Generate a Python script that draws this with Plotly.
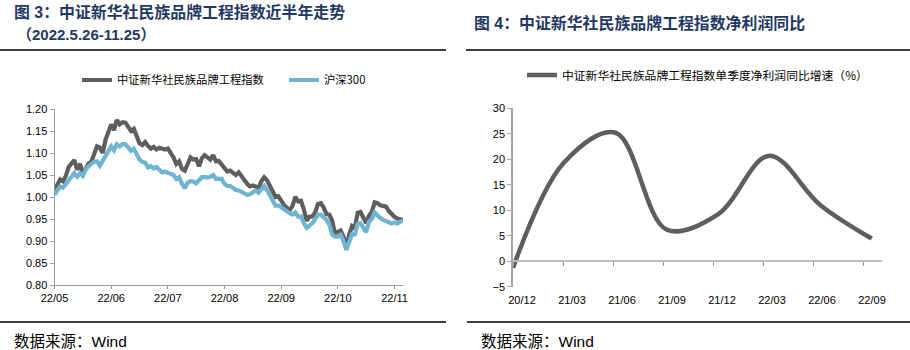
import plotly.graph_objects as go

W, H = 910, 350

# ---------------- data: left chart (trading-day index, ~2022-05-26 .. 2022-11-25) ----------------
brand_index = [
    1.016, 1.027, 1.040, 1.036, 1.048, 1.068, 1.075, 1.084, 1.062, 1.075,
    1.056, 1.064, 1.076, 1.080, 1.098, 1.115, 1.112, 1.100, 1.130, 1.148,
    1.165, 1.152, 1.175, 1.165, 1.170, 1.169, 1.160, 1.150, 1.155, 1.140,
    1.122, 1.118, 1.125, 1.116, 1.110, 1.114, 1.108, 1.112, 1.109, 1.108,
    1.110, 1.101, 1.090, 1.075, 1.081, 1.064, 1.060, 1.075, 1.090, 1.085,
    1.086, 1.070, 1.088, 1.095, 1.090, 1.085, 1.095, 1.081, 1.082, 1.075,
    1.065, 1.058, 1.060, 1.055, 1.050, 1.056, 1.046, 1.036, 1.030, 1.024,
    1.026, 1.024, 1.020, 1.036, 1.045, 1.038, 1.026, 1.012, 1.000, 1.002,
    0.990, 0.982, 0.975, 0.970, 0.980, 1.000, 0.990, 0.991, 0.972, 0.946,
    0.955, 0.956, 0.965, 0.984, 0.986, 0.976, 0.961, 0.960, 0.946, 0.916,
    0.921, 0.924, 0.910, 0.886, 0.914, 0.934, 0.930, 0.964, 0.966, 0.955,
    0.941, 0.958, 0.966, 0.988, 0.986, 0.981, 0.980, 0.978, 0.968, 0.960,
    0.955, 0.951, 0.948, 0.947,
]
hs300 = [
    1.005, 1.015, 1.024, 1.021, 1.030, 1.040, 1.045, 1.054, 1.046, 1.054,
    1.048, 1.062, 1.070, 1.074, 1.080, 1.081, 1.071, 1.082, 1.094, 1.105,
    1.115, 1.106, 1.120, 1.115, 1.120, 1.120, 1.111, 1.105, 1.110, 1.098,
    1.085, 1.080, 1.078, 1.067, 1.070, 1.065, 1.068, 1.062, 1.056, 1.058,
    1.056, 1.054, 1.050, 1.041, 1.045, 1.030, 1.020, 1.033, 1.036, 1.035,
    1.031, 1.038, 1.045, 1.045, 1.044, 1.046, 1.050, 1.041, 1.040, 1.041,
    1.030, 1.025, 1.025, 1.020, 1.016, 1.015, 1.011, 1.008, 1.005, 1.006,
    1.010, 1.015, 1.010, 1.018, 1.025, 1.016, 1.004, 0.990, 0.980, 0.981,
    0.976, 0.970, 0.965, 0.963, 0.960, 0.965, 0.955, 0.956, 0.941, 0.930,
    0.935, 0.940, 0.950, 0.960, 0.960, 0.955, 0.948, 0.937, 0.915, 0.910,
    0.910, 0.914, 0.900, 0.880, 0.900, 0.915, 0.915, 0.939, 0.940, 0.930,
    0.920, 0.944, 0.950, 0.965, 0.957, 0.952, 0.948, 0.945, 0.941, 0.940,
    0.942, 0.940, 0.944, 0.946,
]
left_tick_pos = [0, 20, 40, 60, 80, 100, 120]
left_tick_text = ["22/05", "22/06", "22/07", "22/08", "22/09", "22/10", "22/11"]
left_y_ticks = [0.80, 0.85, 0.90, 0.95, 1.00, 1.05, 1.10, 1.15, 1.20]

# ---------------- data: right chart (quarterly) ----------------
quarters = ["20/12", "21/03", "21/06", "21/09", "21/12", "22/03", "22/06", "22/09"]
profit_yoy = [-1.3, 19.4, 25.2, 6.2, 9.2, 20.7, 11.0, 4.45]
right_y_ticks = [-5, 0, 5, 10, 15, 20, 25, 30]

name_index = "中证新华社民族品牌工程指数"
name_hs300 = "沪深300"
name_profit = "中证新华社民族品牌工程指数单季度净利润同比增速（%）"

GREY = "#5e5e5e"
BLUE = "#6fb4d0"
NAVY = "#1f3864"
AXIS = "#9a9a9a"

def px_x(p):
    return p / W

def px_y(p):
    return 1 - p / H

# plot-area geometry (pixels)
L_X0, L_X1, L_Y0, L_Y1 = 54.5, 403, 109, 285
R_X0, R_X1, R_Y0, R_Y1 = 513, 882, 108.3, 286.7

fig = go.Figure()

fig.add_trace(go.Scatter(
    x=list(range(len(brand_index))), y=brand_index, mode="lines", name=name_index,
    line=dict(color=GREY, width=4.2), xaxis="x", yaxis="y", legend="legend",
))
fig.add_trace(go.Scatter(
    x=list(range(len(hs300))), y=hs300, mode="lines", name=name_hs300,
    line=dict(color=BLUE, width=4.2), xaxis="x", yaxis="y", legend="legend",
))
fig.add_trace(go.Scatter(
    x=list(range(len(profit_yoy))), y=profit_yoy, mode="lines", name=name_profit,
    line=dict(color=GREY, width=4.5, shape="spline", smoothing=1.0),
    xaxis="x2", yaxis="y2", legend="legend2",
))

tick_font = dict(family="Liberation Sans, Arial, sans-serif", size=11, color="#000000")

# right chart x positions: one quarter of data per step, ticks every 50px vs 51.3px/quarter
q_px = (871.7 - R_X0) / (len(quarters) - 1)
r_x_range = [0, (R_X1 - R_X0) / q_px]
r_tick_vals = [k * 50.0 / q_px for k in range(len(quarters))]

r_y_range = [-5, 30]
r_dom = [px_y(R_Y1), px_y(R_Y0)]
zero_pos = r_dom[0] + (0 - r_y_range[0]) / (r_y_range[1] - r_y_range[0]) * (r_dom[1] - r_dom[0])

fig.update_layout(
    width=W, height=H, margin=dict(l=0, r=0, t=0, b=0, autoexpand=False),
    paper_bgcolor="white", plot_bgcolor="white",
    font=dict(family="Liberation Sans, Noto Sans CJK SC, sans-serif", color="#000000"),
    xaxis=dict(
        domain=[px_x(L_X0), px_x(L_X1)], range=[0, len(brand_index) - 1],
        anchor="y", showgrid=False, zeroline=False, automargin=False,
        showline=True, linecolor=AXIS, linewidth=1,
        ticks="outside", ticklen=3, tickcolor=AXIS,
        tickmode="array", tickvals=left_tick_pos, ticktext=left_tick_text,
        tickfont=tick_font,
    ),
    yaxis=dict(
        domain=[px_y(L_Y1), px_y(L_Y0)], range=[0.80, 1.20],
        anchor="x", showgrid=False, zeroline=False, automargin=False,
        showline=True, linecolor=AXIS, linewidth=1,
        ticks="outside", ticklen=4, tickcolor=AXIS,
        tickmode="array", tickvals=left_y_ticks, tickformat=".2f",
        tickfont=tick_font,
    ),
    xaxis2=dict(
        domain=[px_x(R_X0), px_x(R_X1)], range=r_x_range,
        anchor="free", position=zero_pos, showgrid=False, zeroline=False, automargin=False,
        showline=True, linecolor="#bdbdbd", linewidth=1.5,
        ticks="outside", ticklen=4, tickcolor="#9a9a9a",
        tickmode="array", tickvals=r_tick_vals, ticktext=quarters,
        ticklabelshift=9, ticklabelstandoff=25,
        tickfont=tick_font,
    ),
    yaxis2=dict(
        domain=r_dom, range=r_y_range,
        anchor="x2", showgrid=False, zeroline=False, automargin=False,
        showline=True, linecolor="#a6a6a6", linewidth=1.5,
        ticks="outside", ticklen=4, tickcolor="#a6a6a6",
        tickmode="array", tickvals=right_y_ticks,
        tickfont=tick_font,
    ),
    legend=dict(
        orientation="h", x=px_x(77), y=px_y(80), xanchor="left", yanchor="middle",
        font=dict(family="Noto Sans CJK SC, sans-serif", size=11.3, color="#000000"),
        bgcolor="rgba(0,0,0,0)", itemwidth=30, entrywidth=162, entrywidthmode="pixels",
    ),
    legend2=dict(
        orientation="h", x=px_x(522), y=px_y(75), xanchor="left", yanchor="middle",
        font=dict(family="Noto Sans CJK SC, sans-serif", size=11.8, color="#000000"),
        bgcolor="rgba(0,0,0,0)", itemwidth=30,
    ),
    showlegend=True,
)

title_font = dict(family="Liberation Sans, Noto Sans CJK SC, sans-serif", size=15.9, color=NAVY, weight="bold")
annos = [
    dict(text="图 3：中证新华社民族品牌工程指数近半年走势", x=px_x(12), y=px_y(12),
         font=title_font),
    dict(text="（2022.5.26-11.25）", x=px_x(15), y=px_y(35),
         font=dict(title_font, size=15)),
    dict(text="图 4：中证新华社民族品牌工程指数净利润同比", x=px_x(472), y=px_y(23),
         font=title_font),
    dict(text="数据来源：Wind", x=px_x(12), y=px_y(341),
         font=dict(family="Liberation Sans, Noto Sans CJK SC, sans-serif", size=15.5, color="#000000")),
    dict(text="数据来源：Wind", x=px_x(479), y=px_y(341),
         font=dict(family="Liberation Sans, Noto Sans CJK SC, sans-serif", size=15.5, color="#000000")),
]
for a in annos:
    fig.add_annotation(xref="paper", yref="paper", xanchor="left", yanchor="middle",
                       showarrow=False, **a)

rules = [
    (0, 446, 50), (466, 910, 50), (0, 446, 322), (467, 910, 322),
]
for x0, x1, y in rules:
    fig.add_shape(type="line", xref="paper", yref="paper",
                  x0=px_x(x0), x1=px_x(x1), y0=px_y(y), y1=px_y(y),
                  line=dict(color="#000000", width=1.3))

fig.write_html("out.html")
